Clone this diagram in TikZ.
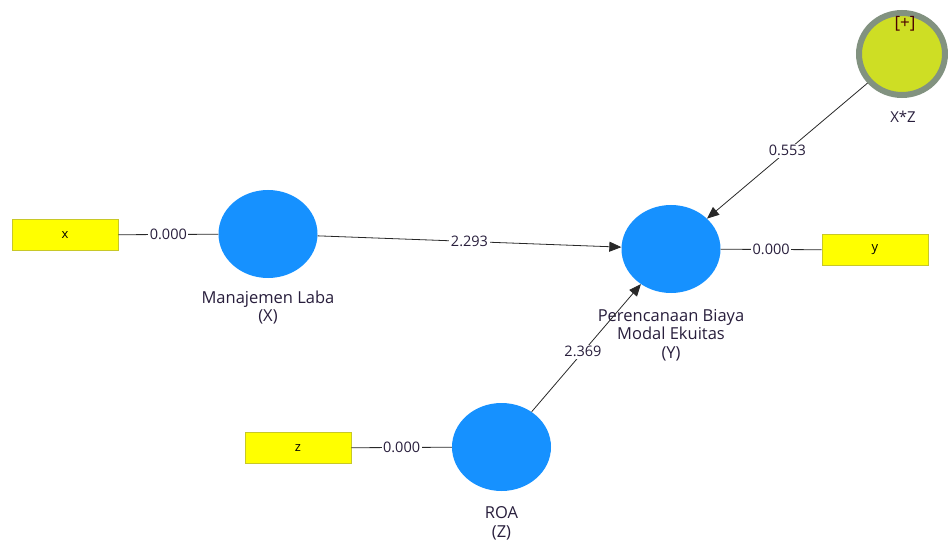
\documentclass[tikz,border=0pt]{standalone}
\usepackage{fontspec}
\setmainfont{Open Sans}
\usetikzlibrary{shapes.geometric,arrows.meta}
\definecolor{lvblue}{RGB}{22,145,255}
\definecolor{indyel}{RGB}{255,255,0}
\definecolor{indbord}{RGB}{200,200,40}
\definecolor{xzfill}{RGB}{206,222,36}
\definecolor{xzbord}{RGB}{130,146,128}
\definecolor{linec}{RGB}{40,40,40}
\definecolor{txtc}{RGB}{40,30,60}
\tikzset{
  latent/.style={ellipse, fill=lvblue, draw=none, minimum width=99pt, minimum height=88pt, inner sep=0pt},
  indic/.style={rectangle, fill=indyel, draw=indbord, line width=0.8pt, minimum width=106pt, minimum height=31pt, inner sep=0pt, font=\fontsize{13}{14}\selectfont},
  inter/.style={ellipse, fill=xzfill, draw=xzbord, line width=6pt, minimum width=86pt, minimum height=82pt, inner sep=0pt},
  vlab/.style={fill=white, inner sep=1.5pt, font=\fontsize{14.5}{15}\selectfont, text=txtc},
  ltext/.style={align=center, font=\fontsize{16.5}{18.5}\selectfont, text=txtc},
  conn/.style={draw=linec, line width=0.8pt},
  arr/.style={conn, -{Triangle[length=12pt,width=10pt]}},
}
\begin{document}
\begin{tikzpicture}[x=1pt,y=-1pt]
\useasboundingbox (0,0) rectangle (948,540);
% latent variables
\node[latent] (X) at (268,234) {};
\node[latent] (Y) at (671,249) {};
\node[latent] (Z) at (501.5,447) {};
\node[inter] (XZ) at (902,54) {};
% indicators
\node[indic] (x) at (65,235) {x};
\node[indic] (y) at (875,250) {y};
\node[indic] (z) at (298,448) {z};
% labels
\node[ltext] (Xl) at (268,307.5) {Manajemen Laba\\(X)};
\node[ltext] (Yl) at (671,335) {Perencanaan Biaya\\Modal Ekuitas\\(Y)};
\node[ltext] (Zl) at (501.5,523.5) {ROA\\(Z)};
\node[font=\fontsize{15}{16}\selectfont, text=txtc] (XZl) at (903,117) {X*Z};
\node[font=\fontsize{17}{18}\selectfont, text=black!70!red] (XZp) at (905,24) {[+]};
% outer loadings
\draw[conn] (x) -- node[vlab] (lx) {0.000} (X);
\draw[conn] (Y) -- node[vlab] (ly) {0.000} (y);
\draw[conn] (z) -- node[vlab] (lz) {0.000} (Z);
% paths
\draw[arr] (X) -- node[vlab, pos=0.5] (pxy) {2.293} (Y);
\draw[arr] (Z) -- node[vlab, pos=0.47] (pzy) {2.369} (Y);
\draw[arr] (XZ) -- node[vlab, pos=0.5] (pxzy) {0.553} (Y);
\end{tikzpicture}
\end{document}
